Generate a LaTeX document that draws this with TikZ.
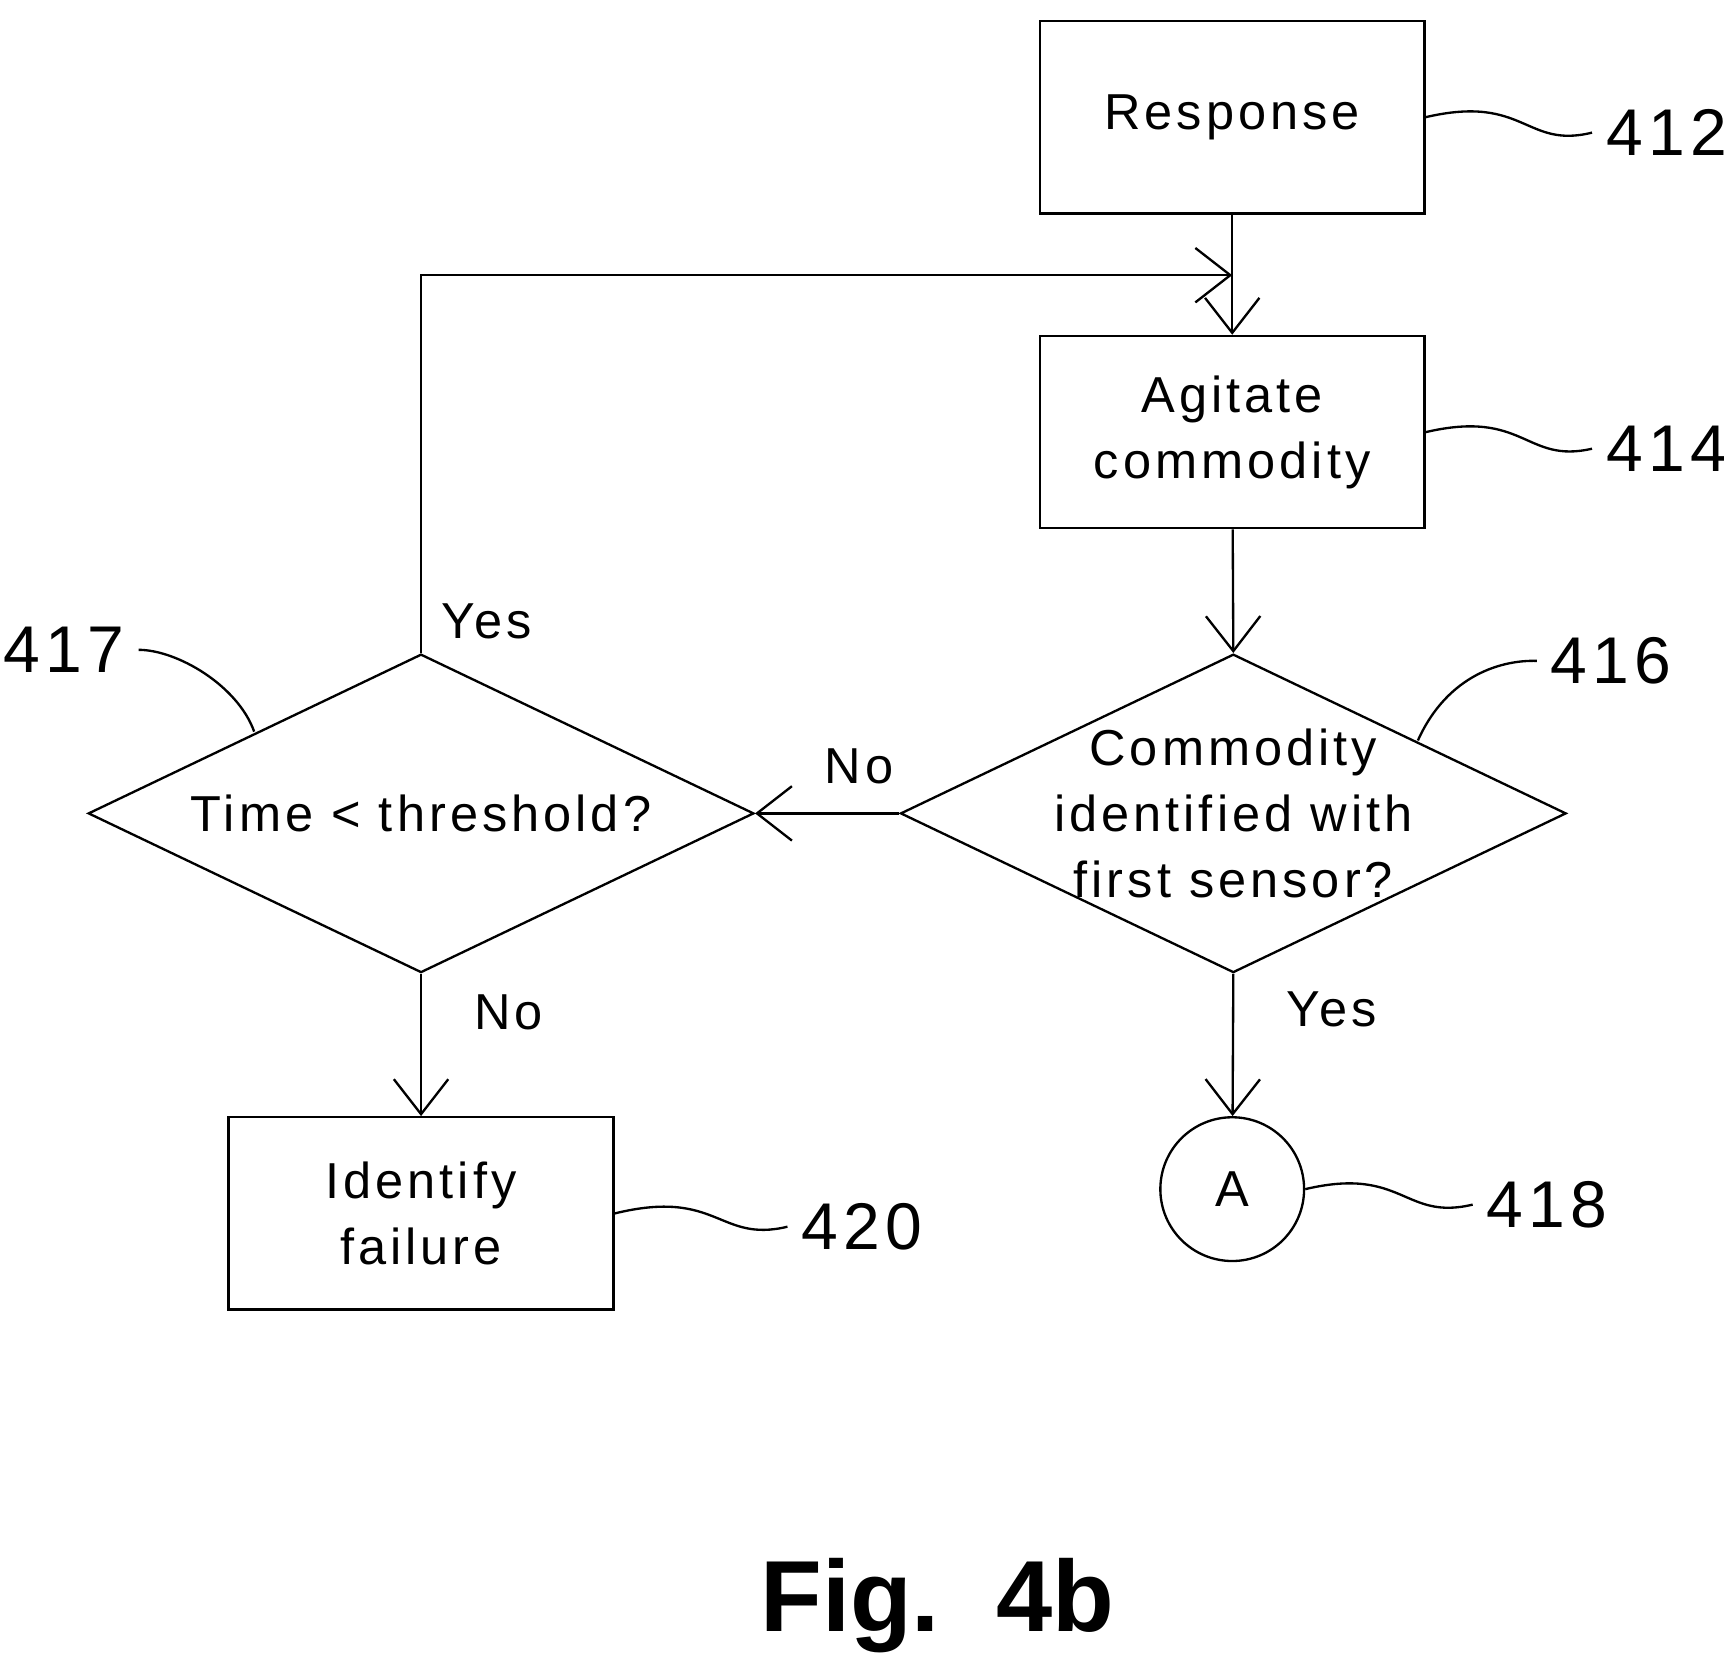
\documentclass[tikz,border=0pt]{standalone}
\usepackage{fontspec}
\setmainfont[LetterSpace=8]{Liberation Sans}
\newfontfamily\figfont{Liberation Sans}
\usetikzlibrary{arrows.meta,shapes.geometric,positioning}
\begin{document}
\begin{tikzpicture}[x=0.01cm,y=-0.01cm,
  line width=0.6pt,
  font=\fontsize{13}{17}\selectfont,
  process/.style={draw,minimum width=3.48cm,minimum height=1.74cm,align=center,inner sep=0pt},
  test/.style={draw,diamond,aspect=2.09,minimum width=6.02cm,minimum height=2.88cm,inner sep=0pt},
  conn/.style={draw,circle,minimum size=1.3cm,inner sep=0pt},
  flow/.style={-{Straight Barb[length=9pt,width=14pt]}},
  tag/.style={font=\fontsize{17}{20}\selectfont}]
\useasboundingbox (0,0) rectangle (1560,1508);

% blocos do fluxograma
\node[process] (resp) at (1115,106) {Response};
\node[process] (agit) at (1115,391) {Agitate\\commodity};
\node[test] (ident) at (1116,736) {};
\node[align=center] at (ident) {Commodity\\identified with\\first sensor?};
\node[test] (time) at (381,736) {};
\node at (time) {Time < threshold?};
\node[process] (fail) at (381,1098) {Identify\\failure};
\node[conn] (A) at (1115,1076) {A};
\coordinate (loop) at (381,249);
\coordinate (join) at (1115,249);

% ligacoes
\draw[flow] (resp) -- (agit);
\draw[flow] (agit) -- (ident.north);
\draw[flow] (ident.west) -- (time.east) node[pos=0.28,above,yshift=4pt] {No};
\draw[flow] (ident.south) -- (A) node[pos=0.25,right,xshift=10pt] {Yes};
\draw[flow] (time.south) -- (fail) node[pos=0.27,right,xshift=10pt] {No};
\draw[flow] (time.north) -- (loop) -- (join);
\node at (440,562) {Yes};

% referencias
\node[tag] (n412) at (1508,120) {412};
\node[tag] (n414) at (1508,406) {414};
\node[tag] (n416) at (1458,598) {416};
\node[tag] (n417) at (58,588) {417};
\node[tag] (n420) at (780,1110) {420};
\node[tag] (n418) at (1400,1090) {418};
\draw (resp.east) .. controls (1380,85) and (1380,135) .. (n412.west);
\draw (agit.east) .. controls (1380,370) and (1380,420) .. (n414.west);
\draw (1283,670) .. controls (1310,610) and (1360,597) .. (n416.west);
\draw (n417.east) .. controls (160,588) and (215,620) .. (230,662);
\draw (fail.east) .. controls (650,1075) and (650,1125) .. (n420.west);
\draw (A.east) .. controls (1270,1055) and (1270,1105) .. (n418.west);

\node[font=\figfont\bfseries\fontsize{26}{30}\selectfont] (fig) at (848,1453) {Fig.\ \ 4b};
\end{tikzpicture}
\end{document}
